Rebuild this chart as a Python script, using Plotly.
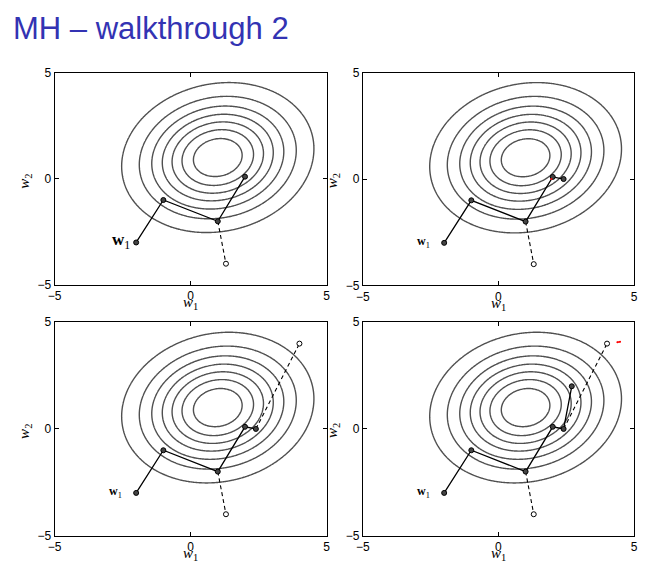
import numpy as np
import plotly.graph_objects as go

# ---------------- data ----------------
title_text = "MH – walkthrough 2"
tick_vals = [-5, 0, 5]
axis_range = [-5, 5]

# Gaussian target (mean, covariance) and contour levels (fraction of peak)
target_mean = [1.0, 1.0]
target_cov = [[3.0, 0.35], [0.35, 3.0]]
level_start, level_end, level_step = 0.125, 0.875, 0.125

# accepted chain samples
chain_x = [-2.0, -1.0, 1.0, 2.0, 2.4, 2.7]
chain_y = [-3.0, -1.0, -2.0, 0.1, 0.0, 2.0]
chain_len = [4, 5, 5, 6]          # samples shown in each panel

# rejected proposals: (from_x, from_y, to_x, to_y)
rej_from_x = [1.0, 2.4]
rej_from_y = [-2.0, 0.0]
rej_to_x = [1.3, 4.0]
rej_to_y = [-4.0, 4.0]
rej_count = [1, 1, 2, 2]          # rejected proposals shown in each panel

# small red marks
red_x = [[], [1.95], [], [4.38, 4.48]]
red_y = [[], [0.0], [], [4.06, 4.09]]

# ---------------- layout geometry ----------------
W, H = 667, 565
panels_px = [  # x0, x1, ytop, ybottom (pixels)
    (48.3, 325.0, 67.3, 285.0),
    (361.7, 637.7, 67.3, 285.5),
    (48.3, 325.0, 323.3, 542.0),
    (361.7, 637.7, 323.3, 542.0),
]

grid = np.linspace(-5, 5, 241)
GX, GY = np.meshgrid(grid, grid)
inv = np.linalg.inv(np.array(target_cov))
DX, DY = GX - target_mean[0], GY - target_mean[1]
Q = inv[0, 0] * DX * DX + 2 * inv[0, 1] * DX * DY + inv[1, 1] * DY * DY
Z = np.exp(-0.5 * Q)

fig = go.Figure()
layout = dict(
    width=W, height=H, margin=dict(l=0, r=0, t=0, b=0),
    paper_bgcolor="white", plot_bgcolor="white", showlegend=False,
)
annotations = []
tickfont = dict(family="Liberation Sans, Arial, sans-serif", size=12, color="black")
labfont = dict(family="Liberation Serif, Times New Roman, serif", size=15, color="black")

for i, (x0, x1, yt, yb) in enumerate(panels_px):
    n = i + 1
    xa = "x" if n == 1 else f"x{n}"
    ya = "y" if n == 1 else f"y{n}"
    xkey = "xaxis" if n == 1 else f"xaxis{n}"
    ykey = "yaxis" if n == 1 else f"yaxis{n}"
    common = dict(range=axis_range, tickvals=tick_vals, ticks="inside", ticklen=4,
                  tickwidth=1, tickcolor="black", showline=True, linecolor="black",
                  linewidth=1, mirror="ticks", showgrid=False, zeroline=False,
                  tickfont=tickfont, fixedrange=True)
    layout[xkey] = dict(domain=[x0 / W, x1 / W], anchor=ya, **common)
    layout[ykey] = dict(domain=[1 - yb / H, 1 - yt / H], anchor=xa, **common)

    fig.add_trace(go.Contour(
        x=grid, y=grid, z=Z, xaxis=xa, yaxis=ya,
        contours=dict(start=level_start, end=level_end, size=level_step, coloring="lines"),
        colorscale=[[0, "#505050"], [1, "#505050"]], showscale=False,
        line=dict(width=1.4, smoothing=1), hoverinfo="skip",
    ))

    # rejected proposals (dashed)
    k = rej_count[i]
    rx, ry = [], []
    for j in range(k):
        rx += [rej_from_x[j], rej_to_x[j], None]
        ry += [rej_from_y[j], rej_to_y[j], None]
    fig.add_trace(go.Scatter(x=rx, y=ry, xaxis=xa, yaxis=ya, mode="lines",
                             line=dict(color="black", width=1.1, dash="4px,3px"),
                             hoverinfo="skip"))
    fig.add_trace(go.Scatter(x=rej_to_x[:k], y=rej_to_y[:k], xaxis=xa, yaxis=ya,
                             mode="markers",
                             marker=dict(symbol="circle", size=5, color="white",
                                         line=dict(color="black", width=1)),
                             hoverinfo="skip"))

    # accepted chain
    m = chain_len[i]
    fig.add_trace(go.Scatter(x=chain_x[:m], y=chain_y[:m], xaxis=xa, yaxis=ya,
                             mode="lines+markers",
                             line=dict(color="black", width=1.3),
                             marker=dict(symbol="circle", size=5, color="#444444",
                                         line=dict(color="black", width=1)),
                             hoverinfo="skip"))

    # red marks
    if red_x[i]:
        fig.add_trace(go.Scatter(x=red_x[i], y=red_y[i], xaxis=xa, yaxis=ya,
                                 mode="lines+markers",
                                 line=dict(color="red", width=1.5),
                                 marker=dict(color="red", size=2),
                                 hoverinfo="skip"))

    # start label
    big = (i == 0)
    annotations.append(dict(
        x=chain_x[0], y=chain_y[0], xref=xa, yref=ya,
        text="<b>w</b><sub>1</sub>", showarrow=False,
        xanchor="right", yanchor="middle", xshift=-4 if big else -12, yshift=1,
        font=dict(family="Liberation Serif, Times New Roman, serif",
                  size=17 if big else 12, color="black"),
    ))

    # axis titles
    cx = (x0 + x1) / 2
    cy = (yt + yb) / 2
    annotations.append(dict(
        x=cx / W, y=1 - (yb + 19) / H, xref="paper", yref="paper",
        text="<i>w</i><sub>1</sub>", showarrow=False,
        xanchor="center", yanchor="middle", font=labfont,
    ))
    annotations.append(dict(
        x=(x0 - 30) / W, y=1 - (cy + 2) / H, xref="paper", yref="paper",
        text="<i>w</i><sub>2</sub>", showarrow=False, textangle=-90,
        xanchor="center", yanchor="middle", font=labfont,
    ))

annotations.append(dict(
    x=4 / W, y=1 - 2 / H, xref="paper", yref="paper", text=title_text,
    showarrow=False, xanchor="left", yanchor="top",
    font=dict(family="Liberation Sans, Arial, sans-serif", size=31, color="#3333b3"),
))
layout["annotations"] = annotations
fig.update_layout(**layout)
fig.write_html("out.html", config={"displayModeBar": False},
               post_script="document.body.style.margin='0';document.body.style.overflow='hidden';")
